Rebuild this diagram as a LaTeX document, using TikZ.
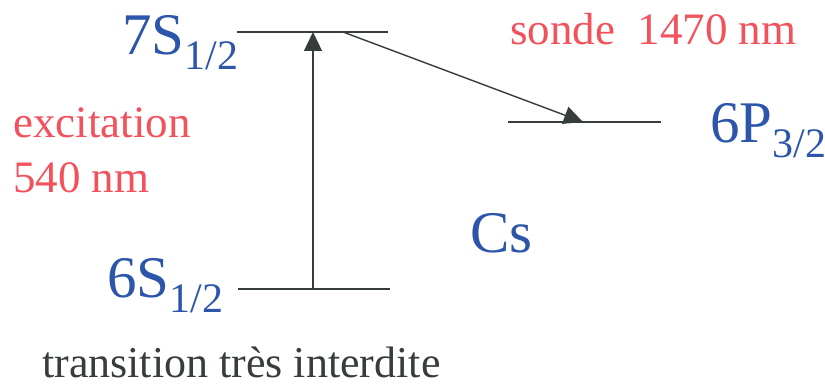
\documentclass[tikz,border=0pt]{standalone}
\usepackage{fontspec}
\setmainfont{Liberation Serif}
\usetikzlibrary{arrows.meta,positioning}
\definecolor{lvlblue}{RGB}{45,85,170}
\definecolor{lasred}{RGB}{242,82,92}
\definecolor{inkgray}{RGB}{55,60,60}
\tikzset{
  >={Triangle[length=19pt,width=18pt]},
  lvl/.style   ={inner sep=0pt, anchor=base west, text=lvlblue, font=\fontsize{59}{59}\selectfont},
  lasr/.style  ={inner sep=0pt, anchor=base west, text=lasred, font=\fontsize{45}{45}\selectfont},
  note/.style  ={inner sep=0pt, anchor=base west, text=inkgray, font=\fontsize{44}{44}\selectfont},
  level/.style ={draw=inkgray, line width=1.6pt},
  trans/.style ={->, draw=inkgray, fill=inkgray, line width=1.4pt},
}
\newcommand{\lsub}[1]{\raisebox{-15pt}{\fontsize{42}{42}\selectfont #1}}

\begin{document}
\begin{tikzpicture}[x=1pt, y=-1pt]
  \useasboundingbox (0,0) rectangle (825,385);

  % energy levels
  \coordinate (s7w) at (237,32);  \coordinate (s7e) at (388,32);
  \coordinate (s6w) at (238,289); \coordinate (s6e) at (390,289);
  \coordinate (p6w) at (508,122); \coordinate (p6e) at (661,122);
  \draw[level] (s7w) -- (s7e);
  \draw[level] (s6w) -- (s6e);
  \draw[level] (p6w) -- (p6e);

  \node[lvl] (s7) at (122,55)  {7S\lsub{1/2}};
  \node[lvl] (s6) at (107,297) {6S\lsub{1/2}};
  \node[lvl] (p6) at (710,143) {6P\lsub{3/2}};
  \node[lvl] (cs) at (470,252) {Cs};

  % transitions
  \coordinate (exlo) at (313,289); \coordinate (exhi) at (313,32);
  \coordinate (prlo) at (343,32);  \coordinate (prhi) at (583,122);
  \draw[trans] (exlo) -- (exhi);
  \draw[trans] (prlo) -- (prhi);

  \node[lasr] (exc) at (13,138) {excitation};
  \node[lasr] (wlx) at (13,193) {540 nm};
  \node[lasr] (prb) at (510,45) {sonde\ \ 1470 nm};

  \node[note] (forb) at (42,377) {transition très interdite};
\end{tikzpicture}
\end{document}
